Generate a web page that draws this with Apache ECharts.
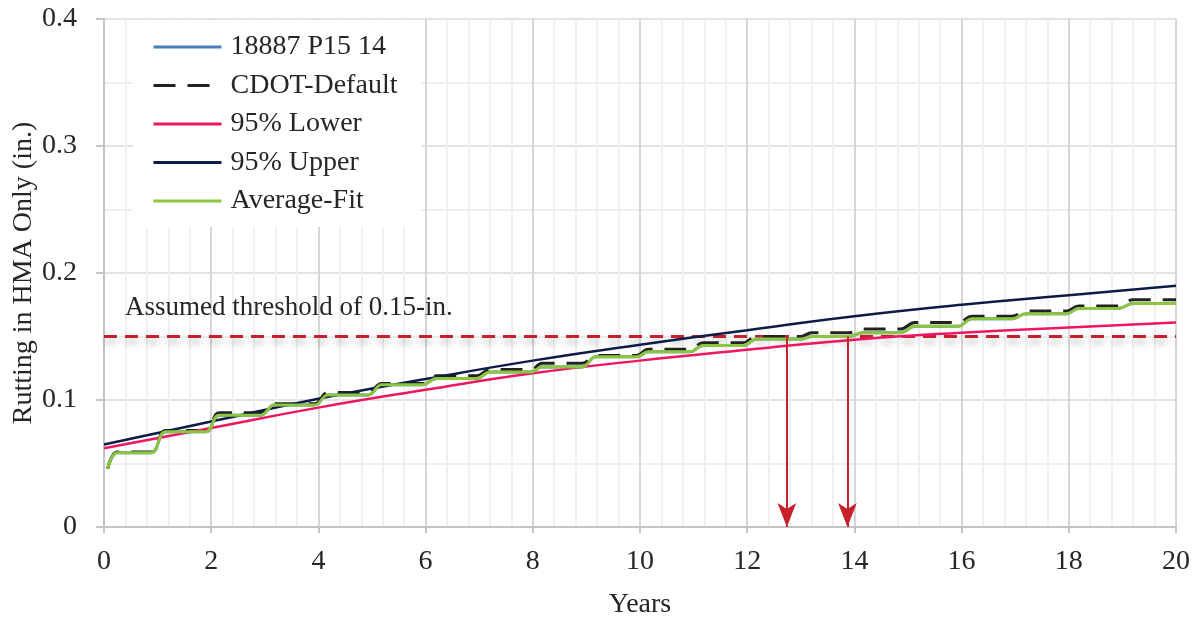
<!DOCTYPE html>
<html>
<head>
<meta charset="utf-8">
<script src="https://cdn.jsdelivr.net/npm/echarts@6/dist/echarts.min.js"></script>
<style>
  html, body { margin: 0; padding: 0; background: #fff; }
  #main { width: 1198px; height: 617px; }
</style>
</head>
<body>
<div id="main"></div>
<script>
// x positions of the step-shaped series (start of run, then flat start/end per year)
const stepYears = [0.07, 0.25, 0.88, 1.15, 1.9, 2.15, 2.92, 3.18, 3.93, 4.18, 4.93, 5.18, 5.94, 6.2, 6.95,
  7.2, 7.97, 8.17, 8.92, 9.18, 9.94, 10.15, 10.93, 11.18, 11.92, 12.18, 13.0, 13.2, 13.9, 14.16, 14.86,
  15.13, 15.93, 16.2, 16.94, 17.2, 17.96, 18.18, 18.92, 19.2, 20.0]

const measured = [0.046, 0.0585, 0.0585, 0.075, 0.075, 0.088, 0.088, 0.096, 0.096, 0.104, 0.104, 0.112, 0.112,
  0.117, 0.117, 0.122, 0.122, 0.126, 0.126, 0.134, 0.134, 0.138, 0.138, 0.143, 0.143, 0.148, 0.148,
  0.150, 0.150, 0.153, 0.153, 0.158, 0.158, 0.164, 0.164, 0.168, 0.168, 0.172, 0.172, 0.176, 0.176]

const cdotDefault = [0.046, 0.059, 0.059, 0.076, 0.076, 0.090, 0.090, 0.097, 0.097, 0.106, 0.106, 0.113, 0.113,
  0.119, 0.119, 0.124, 0.124, 0.129, 0.129, 0.135, 0.135, 0.140, 0.140, 0.145, 0.145, 0.150, 0.150,
  0.153, 0.153, 0.156, 0.156, 0.161, 0.161, 0.166, 0.166, 0.170, 0.170, 0.174, 0.174, 0.179, 0.179]

const averageFit = [0.046, 0.0585, 0.0585, 0.075, 0.075, 0.088, 0.088, 0.096, 0.096, 0.104, 0.104, 0.112, 0.112,
  0.117, 0.117, 0.122, 0.122, 0.126, 0.126, 0.134, 0.134, 0.138, 0.138, 0.143, 0.143, 0.148, 0.148,
  0.150, 0.150, 0.153, 0.153, 0.158, 0.158, 0.164, 0.164, 0.168, 0.168, 0.172, 0.172, 0.176, 0.176]

// confidence bounds, read every 2 years
const boundYears = [0, 2, 4, 6, 8, 10, 12, 14, 16, 18, 20]
const lower95 = [0.062, 0.078, 0.094, 0.108, 0.121, 0.131, 0.1395, 0.1475, 0.153, 0.157, 0.161]
const upper95 = [0.065, 0.083, 0.101, 0.1165, 0.131, 0.1435, 0.155, 0.166, 0.175, 0.1825, 0.190]

const threshold = 0.15
const thresholdYears = [0, 20]
const arrowYears = [12.74, 13.87]

const zip = (xs, ys) => xs.map((x, i) => [x, ys[i]])

const font = 'Liberation Serif'
const textColor = '#262626'

const chart = echarts.init(document.getElementById('main'))

chart.setOption({
  animation: false,
  textStyle: { fontFamily: font },
  grid: { left: 104, right: 22, top: 19, bottom: 90, outerBoundsMode: 'none' },
  legend: {
    data: ['18887 P15 14', 'CDOT-Default', '95% Lower', '95% Upper', 'Average-Fit'],
    orient: 'vertical',
    left: 133,
    top: 20,
    padding: [13, 24, 12, 19],
    backgroundColor: '#fff',
    itemWidth: 68,
    itemHeight: 14,
    itemGap: 10.5,
    itemStyle: { opacity: 0 },
    lineStyle: { width: 3 },
    textStyle: { fontFamily: font, fontSize: 28, lineHeight: 28, color: textColor, padding: [0, 0, 0, 4] }
  },
  xAxis: {
    type: 'value',
    min: 0,
    max: 20,
    interval: 2,
    name: 'Years',
    nameLocation: 'middle',
    nameGap: 64,
    nameMoveOverlap: false,
    nameTextStyle: { fontFamily: font, fontSize: 28, color: textColor },
    axisLine: { lineStyle: { color: '#c4c4c4', width: 2 } },
    axisTick: { show: true, length: 6, lineStyle: { color: '#c4c4c4', width: 2 } },
    axisLabel: { fontFamily: font, fontSize: 28, color: textColor, margin: 21 },
    splitLine: { show: true, lineStyle: { color: '#d6d6d6', width: 2 } },
    minorTick: { show: false, splitNumber: 5 },
    minorSplitLine: { show: true, lineStyle: { color: '#eff0f3', width: 2 } }
  },
  yAxis: {
    type: 'value',
    min: 0,
    max: 0.4,
    interval: 0.1,
    name: 'Rutting in HMA Only (in.)',
    nameLocation: 'middle',
    nameGap: 66,
    nameMoveOverlap: false,
    nameTextStyle: { fontFamily: font, fontSize: 28, color: textColor },
    axisLine: { show: true, lineStyle: { color: '#c4c4c4', width: 2 } },
    axisTick: { show: true, length: 8, lineStyle: { color: '#c4c4c4', width: 2 } },
    axisLabel: {
      fontFamily: font, fontSize: 28, color: textColor, margin: 27,
      formatter: v => (v === 0 ? '0' : v.toFixed(1))
    },
    splitLine: { show: true, lineStyle: { color: '#e2e2e2', width: 2 } },
    minorTick: { show: false, splitNumber: 2 },
    minorSplitLine: { show: true, lineStyle: { color: '#eeeeee', width: 2 } }
  },
  graphic: [
    {
      type: 'text',
      left: 125,
      top: 294,
      z: 100,
      style: { text: 'Assumed threshold of 0.15-in.', font: '27px "Liberation Serif"', fill: textColor }
    }
  ],
  series: [
    {
      name: 'threshold',
      type: 'line',
      symbol: 'none',
      data: zip(thresholdYears, [threshold, threshold]),
      lineStyle: {
        color: '#c8202a', width: 3, type: [13, 8],
        shadowColor: 'rgba(0,0,0,0.3)', shadowBlur: 7, shadowOffsetY: 5
      },
      silent: true,
      z: 3,
      markLine: {
        silent: true,
        symbol: ['none', 'arrow'],
        symbolSize: [14, 24],
        label: { show: false },
        lineStyle: { color: '#c8202a', width: 2, type: 'solid', shadowBlur: 0 },
        data: arrowYears.map(x => [{ coord: [x, threshold] }, { coord: [x, 0] }])
      }
    },
    {
      name: '18887 P15 14',
      type: 'line',
      symbol: 'none',
      smooth: 0.4,
      data: zip(stepYears, measured),
      lineStyle: { color: '#4a7ebb', width: 3 },
      itemStyle: { color: '#4a7ebb' }
    },
    {
      name: 'CDOT-Default',
      type: 'line',
      symbol: 'none',
      smooth: 0.4,
      data: zip(stepYears, cdotDefault),
      lineStyle: { color: '#222222', width: 3, type: [22, 12] },
      itemStyle: { color: '#222222' }
    },
    {
      name: '95% Lower',
      type: 'line',
      symbol: 'none',
      smooth: true,
      data: zip(boundYears, lower95),
      lineStyle: { color: '#ef1662', width: 2.5 },
      itemStyle: { color: '#ef1662' }
    },
    {
      name: '95% Upper',
      type: 'line',
      symbol: 'none',
      smooth: true,
      data: zip(boundYears, upper95),
      lineStyle: { color: '#0c1c46', width: 2.5 },
      itemStyle: { color: '#0c1c46' }
    },
    {
      name: 'Average-Fit',
      type: 'line',
      symbol: 'none',
      smooth: 0.4,
      data: zip(stepYears, averageFit),
      lineStyle: { color: '#8cc640', width: 3 },
      itemStyle: { color: '#8cc640' }
    }
  ]
})
</script>
</body>
</html>
